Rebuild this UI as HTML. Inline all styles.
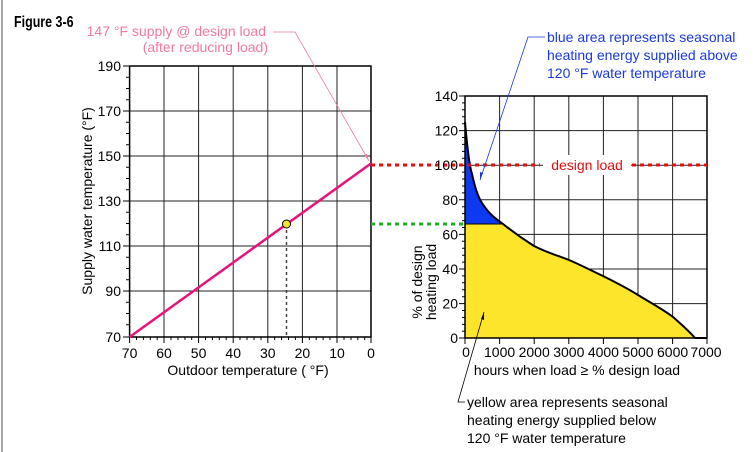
<!DOCTYPE html>
<html><head><meta charset="utf-8"><style>
html,body{margin:0;padding:0;background:#fff;}
svg{display:block;font-family:"Liberation Sans",sans-serif;}
</style></head><body>
<svg width="753" height="452" viewBox="0 0 753 452">
<line x1="2" y1="0" x2="2" y2="452" stroke="#888" stroke-width="1.5"/>
<text transform="translate(14,27) scale(0.78,1)" font-size="16" font-weight="bold">Figure 3-6</text>

<!-- Left chart grid -->
<g stroke="#222" stroke-width="1">
<line x1="164" y1="66" x2="164" y2="337"/><line x1="198.6" y1="66" x2="198.6" y2="337"/>
<line x1="233.2" y1="66" x2="233.2" y2="337"/><line x1="267.8" y1="66" x2="267.8" y2="337"/>
<line x1="302.4" y1="66" x2="302.4" y2="337"/><line x1="337" y1="66" x2="337" y2="337"/>
<line x1="129.6" y1="111" x2="371" y2="111"/><line x1="129.6" y1="156" x2="371" y2="156"/>
<line x1="129.6" y1="201" x2="371" y2="201"/><line x1="129.6" y1="246" x2="371" y2="246"/>
<line x1="129.6" y1="291" x2="371" y2="291"/>
</g>
<rect x="129.6" y="66" width="241.4" height="271" fill="none" stroke="#000" stroke-width="1.5"/>
<g stroke="#000" stroke-width="1">
<path d="M123 66H129M123 111H129M123 156H129M123 201H129M123 246H129M123 291H129M123 337H129"/>
<path d="M126 77.25H129M126 88.5H129M126 99.75H129M126 122.25H129M126 133.5H129M126 144.75H129M126 167.25H129M126 178.5H129M126 189.75H129M126 212.25H129M126 223.5H129M126 234.75H129M126 257.25H129M126 268.5H129M126 279.75H129M126 302.25H129M126 313.5H129M126 324.75H129"/>
<path d="M129.6 337v6M164 337v6M198.6 337v6M233.2 337v6M267.8 337v6M302.4 337v6M337 337v6M371 337v6"/>
<path d="M136.5 337v3M143.4 337v3M150.3 337v3M157.2 337v3M171 337v3M178 337v3M185 337v3M191.7 337v3M205.5 337v3M212.4 337v3M219.3 337v3M226.2 337v3M240 337v3M247 337v3M254 337v3M261 337v3M274.7 337v3M281.6 337v3M288.5 337v3M295.4 337v3M309.3 337v3M316.2 337v3M323.1 337v3M330 337v3M344 337v3M351 337v3M357.8 337v3M364.7 337v3"/>
</g>
<g font-size="14" text-anchor="end">
<text x="121" y="71">190</text><text x="121" y="116">170</text><text x="121" y="161">150</text>
<text x="121" y="206">130</text><text x="121" y="251">110</text><text x="121" y="296">90</text><text x="121" y="342">70</text>
</g>
<g font-size="14" text-anchor="middle">
<text x="129.6" y="358">70</text><text x="164" y="358">60</text><text x="198.6" y="358">50</text><text x="233.2" y="358">40</text>
<text x="267.8" y="358">30</text><text x="302.4" y="358">20</text><text x="337" y="358">10</text><text x="371" y="358">0</text>
<text x="248" y="375">Outdoor temperature ( °F)</text>
</g>
<text transform="translate(92,201) rotate(-90)" font-size="14" text-anchor="middle">Supply water temperature (°F)</text>
<line x1="286.5" y1="224" x2="286.5" y2="337" stroke="#444" stroke-width="1.5" stroke-dasharray="3,3"/>
<line x1="129.6" y1="337" x2="371" y2="163.5" stroke="#e8137a" stroke-width="2.5"/>
<circle cx="286.5" cy="224" r="4" fill="#f5e62a" stroke="#000" stroke-width="1"/>

<!-- annotation pink -->
<text font-size="14" fill="#f07aa0" text-anchor="end"><tspan x="266" y="36">147 °F supply @ design load</tspan><tspan x="268" y="52">(after reducing load)</tspan></text>
<polyline points="273,32 295,32 369,161" fill="none" stroke="#f07aa0" stroke-width="0.8"/>
<path d="M369,161 l-5,-6 l3,-1z" fill="#f07aa0"/>

<!-- Right chart -->
<g stroke="#222" stroke-width="1">
<path d="M499.6 96V338M534.2 96V338M568.8 96V338M603.4 96V338M638 96V338M672.6 96V338"/>
<path d="M465 130.6H707M465 165.2H707M465 199.8H707M465 234.4H707M465 269H707M465 303.6H707"/>
</g>
<path d="M465,224 L465,122 C467,145 469,165 472,174 C475,188 478,197 482,203 C489,214 496,219 503,224 L465,224 Z" fill="#0d3af0"/>
<path d="M465,224 L503,224 C518,236 526,241 534,246 C548,253 556,255 569,260 C583,266 592,271 603,276 C617,283 627,288 638,295 C651,303 664,310 673,317 C682,325 689,331 695,338 L465,338 Z" fill="#fce52b"/>
<line x1="465" y1="224" x2="503" y2="224" stroke="#000" stroke-width="1"/>
<path d="M465,122 C467,145 469,165 472,174 C475,188 478,197 482,203 C489,214 496,219 503,224 C518,236 526,241 534,246 C548,253 556,255 569,260 C583,266 592,271 603,276 C617,283 627,288 638,295 C651,303 664,310 673,317 C682,325 689,331 695,338 L707,338" fill="none" stroke="#000" stroke-width="2"/>
<rect x="465" y="96" width="242" height="242" fill="none" stroke="#000" stroke-width="1.5"/>
<g stroke="#000" stroke-width="1">
<path d="M459 96H465M459 130.6H465M459 165.2H465M459 199.8H465M459 234.4H465M459 269H465M459 303.6H465M459 338H465"/>
<path d="M462 102.9H465M462 109.8H465M462 116.8H465M462 123.7H465M462 137.5H465M462 144.4H465M462 151.4H465M462 158.3H465M462 172.1H465M462 179H465M462 186H465M462 192.9H465M462 206.7H465M462 213.6H465M462 220.6H465M462 227.5H465M462 241.3H465M462 248.2H465M462 255.2H465M462 262.1H465M462 275.9H465M462 282.8H465M462 289.8H465M462 296.7H465M462 310.5H465M462 317.4H465M462 324.4H465M462 331.3H465"/>
<path d="M465 338v6M499.6 338v6M534.2 338v6M568.8 338v6M603.4 338v6M638 338v6M672.6 338v6M707 338v6"/>
</g>

<!-- dotted lines -->
<line x1="371" y1="165" x2="540" y2="165" stroke="#e01010" stroke-width="3" stroke-dasharray="4,4"/>
<rect x="543" y="155" width="88" height="20" fill="#fff"/>
<line x1="632" y1="165" x2="707" y2="165" stroke="#e01010" stroke-width="3" stroke-dasharray="4,4"/>
<text x="587" y="170" font-size="14" fill="#e01010" text-anchor="middle">design load</text>
<line x1="371" y1="224" x2="465" y2="224" stroke="#1db31d" stroke-width="3" stroke-dasharray="4,4"/>

<g font-size="14" text-anchor="end">
<text x="458" y="101">140</text><text x="458" y="135.6">120</text><text x="458" y="170">100</text><text x="458" y="205">80</text>
<text x="458" y="239.5">60</text><text x="458" y="274">40</text><text x="458" y="308.5">20</text><text x="458" y="343">0</text>
</g>
<g font-size="14" text-anchor="middle">
<text x="466" y="357">0</text><text x="499.6" y="357">1000</text><text x="534.2" y="357">2000</text><text x="568.8" y="357">3000</text>
<text x="603.4" y="357">4000</text><text x="638" y="357">5000</text><text x="672.6" y="357">6000</text><text x="706" y="357">7000</text>
<text x="577" y="375">hours when load ≥ % design load</text>
</g>
<text transform="translate(422,282) rotate(-90)" font-size="14" text-anchor="middle"><tspan x="0" y="0">% of design</tspan><tspan x="0" y="14">heating load</tspan></text>

<!-- blue annotation -->
<text font-size="14" fill="#1a3ad8"><tspan x="547" y="42">blue area represents seasonal</tspan><tspan x="547" y="60">heating energy supplied above</tspan><tspan x="547" y="78">120 °F water temperature</tspan></text>
<polyline points="545,37 528,37 480,180" fill="none" stroke="#1a3ad8" stroke-width="0.8"/>
<path d="M480,180 l0,-8 l3,1z" fill="#1a3ad8"/>

<!-- yellow annotation -->
<text font-size="14" fill="#000"><tspan x="467" y="407">yellow area represents seasonal</tspan><tspan x="467" y="425">heating energy supplied below</tspan><tspan x="467" y="443">120 °F water temperature</tspan></text>
<polyline points="465,402 458,402 484,312" fill="none" stroke="#000" stroke-width="0.8"/>
<path d="M484,312 l0,8 l-3,-1z" fill="#000"/>
</svg>
</body></html>
